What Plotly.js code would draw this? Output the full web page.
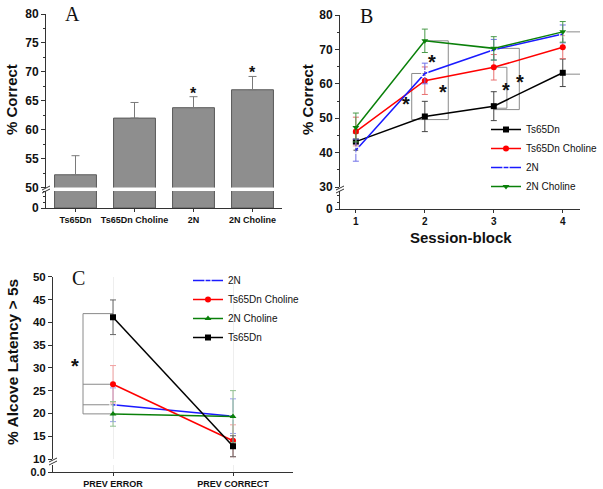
<!DOCTYPE html>
<html>
<head>
<meta charset="utf-8">
<script src="https://cdn.plot.ly/plotly-3.0.1.min.js"></script>
<style>
	body { margin: 0; background: #fff; }
	#chart { width: 603px; height: 489px; }
</style>
</head>
<body>
<div id="chart"></div>
<script>
// panel A - overall % correct
const groups = ["Ts65Dn", "Ts65Dn Choline", "2N", "2N Choline"];
const groupCorrect = [52.2, 62.0, 63.8, 66.9];
const groupErr = [3.3, 2.7, 1.9, 2.3];

// panel B - % correct by session block
const blocks = [1, 2, 3, 4];
const ts65dnB = [43.2, 50.5, 53.5, 63.2];
const ts65dnBErr = [2.5, 4.4, 4.2, 4.0];
const ts65dnCholB = [46.1, 60.9, 64.8, 70.6];
const ts65dnCholBErr = [4.2, 4.0, 3.7, 3.3];
const twoNB = [40.7, 63.0, 69.9, 74.5];
const twoNBErr = [3.2, 3.0, 3.0, 2.6];
const twoNCholB = [47.3, 72.5, 70.3, 75.1];
const twoNCholBErr = [4.2, 3.4, 3.4, 3.0];

// panel C - % alcove latency > 5s
const prevCats = ["PREV ERROR", "PREV CORRECT"];
const twoNC = [21.9, 19.4];
const twoNCErr = [3.7, 3.8];
const ts65dnCholC = [26.4, 14.0];
const ts65dnCholCErr = [4.1, 3.5];
const twoNCholC = [19.9, 19.3];
const twoNCholCErr = [2.7, 5.7];
const ts65dnC = [41.1, 12.8];
const ts65dnCErr = [3.8, 2.3];

const W = 603, H = 489;
const FONT = "Liberation Sans, Arial, sans-serif";
const SERIF = "Liberation Serif, Times New Roman, serif";
const AXIS_COL = "#333";
const BRACKET_COL = "#8a8a8a";

function px2x(p) { return p / W; }
function px2y(p) { return 1 - p / H; }
function xDom(a, b) { return [px2x(a), px2x(b)]; }
function yDom(top, bottom) { return [px2y(bottom), px2y(top)]; }

const tickFont = {family: FONT, size: 12, color: "#111", weight: "bold"};

function yAxisBase(extra) {
	return Object.assign({
		showline: true, linecolor: AXIS_COL, linewidth: 1,
		ticks: "outside", ticklen: 4, tickcolor: AXIS_COL,
		showgrid: false, zeroline: false, fixedrange: true,
		tickfont: tickFont
	}, extra);
}

// --- traces ---
const traces = [];

// A: bars drawn in both segments of the broken axis
[["x", "y"], ["x", "y2"]].forEach(function(ax, i) {
	traces.push({
		type: "bar", x: groups, y: groupCorrect, xaxis: ax[0], yaxis: ax[1],
		marker: {color: "#8e8e8e", line: {color: "#5a5a5a", width: 1}},
		error_y: i === 0 ? {
			type: "data", symmetric: false, array: groupErr,
			arrayminus: groupErr.map(() => 0), color: "#7a7a7a", thickness: 1, width: 4
		} : {visible: false},
		showlegend: false, hoverinfo: "skip"
	});
});

function lineTrace(name, xs, ys, errs, color, errColor, symbol, xa, ya, legend) {
	return {
		type: "scatter", mode: "lines+markers", name: name,
		x: xs, y: ys, xaxis: xa, yaxis: ya, legend: legend,
		line: {color: color, width: 1.5},
		marker: {color: symbol === "square-open" ? "#fff" : color, symbol: symbol, size: 6,
			line: {color: color, width: symbol === "square-open" ? 1.2 : 0}},
		error_y: {type: "data", array: errs, color: errColor, thickness: 1, width: 3},
		cliponaxis: false
	};
}

// the lower stub of each broken axis gets the same series (all clipped away)
function stubTrace(t, ya) {
	return Object.assign({}, t, {yaxis: ya, showlegend: false, cliponaxis: true,
		error_y: {visible: false}, hoverinfo: "skip"});
}

// B
const bTraces = [
	lineTrace("Ts65Dn", blocks, ts65dnB, ts65dnBErr, "#000", "#444", "square", "x2", "y3", "legend"),
	lineTrace("Ts65Dn Choline", blocks, ts65dnCholB, ts65dnCholBErr, "#ff0000", "#e87070", "circle", "x2", "y3", "legend"),
	lineTrace("2N", blocks, twoNB, twoNBErr, "#1a1aff", "#7070e8", "square-open", "x2", "y3", "legend"),
	lineTrace("2N Choline", blocks, twoNCholB, twoNCholBErr, "#0a800a", "#4a9a4a", "triangle-down", "x2", "y3", "legend")
];

// C
const cTraces = [
	lineTrace("2N", prevCats, twoNC, twoNCErr, "#1a1aff", "#9aa0ee", "square-open", "x3", "y5", "legend2"),
	lineTrace("Ts65Dn Choline", prevCats, ts65dnCholC, ts65dnCholCErr, "#ff0000", "#f2a0a0", "circle", "x3", "y5", "legend2"),
	lineTrace("2N Choline", prevCats, twoNCholC, twoNCholCErr, "#0a800a", "#90c090", "triangle-up", "x3", "y5", "legend2"),
	lineTrace("Ts65Dn", prevCats, ts65dnC, ts65dnCErr, "#000", "#666", "square", "x3", "y5", "legend2")
];

bTraces.forEach(t => traces.push(stubTrace(t, "y4")));
cTraces.forEach(t => traces.push(stubTrace(t, "y6")));
bTraces.forEach(t => traces.push(t));
cTraces.forEach(t => traces.push(t));

// --- significance brackets ---
const shapes = [];
function seg(xref, yref, x0, y0, x1, y1) {
	shapes.push({type: "line", xref: xref, yref: yref, x0: x0, y0: y0, x1: x1, y1: y1,
		line: {color: BRACKET_COL, width: 1}, layer: "below"});
}
function bracket(xref, yref, x, xv, top, bottom) {
	seg(xref, yref, x, top, xv, top);
	seg(xref, yref, xv, top, xv, bottom);
	seg(xref, yref, xv, bottom, x, bottom);
}
bracket("x2", "y3", 2, 1.81, twoNB[1], ts65dnB[1] - 0.9);
bracket("x2", "y3", 2, 2.34, twoNCholB[1], ts65dnB[1] - 0.9);
bracket("x2", "y3", 3, 3.19, ts65dnCholB[2], ts65dnB[2] - 0.6);
bracket("x2", "y3", 3, 3.37, twoNCholB[2], ts65dnB[2] - 1.0);
bracket("x2", "y3", 4, 4.28, twoNCholB[3], ts65dnB[3] - 0.4);

// C: one vertical bar joining all four PREV ERROR points
seg("x3", "y5", -0.25, ts65dnC[0] + 0.8, -0.25, twoNCholC[0]);
[ts65dnC[0] + 0.8, ts65dnCholC[0], twoNC[0], twoNCholC[0]].forEach(function(v) {
	seg("x3", "y5", -0.25, v, 0, v);
});

// axis break marks
function breakMarks(xPx, yPx) {
	[0, 3].forEach(function(off) {
		shapes.push({type: "line", xref: "paper", yref: "paper",
			x0: px2x(xPx - 4), y0: px2y(yPx + off + 2), x1: px2x(xPx + 4), y1: px2y(yPx + off - 2),
			line: {color: AXIS_COL, width: 1}});
	});
}
breakMarks(46, 188);
breakMarks(340, 188);
breakMarks(53, 460);

// --- annotations ---
const annotations = [];
function txt(text, xPx, yPx, size, opts) {
	annotations.push(Object.assign({
		text: text, xref: "paper", yref: "paper", x: px2x(xPx), y: px2y(yPx),
		xanchor: "center", yanchor: "middle", showarrow: false,
		font: {family: FONT, size: size, color: "#111", weight: "bold"}
	}, opts || {}));
}
function star(xref, yref, x, y, size) {
	annotations.push({text: "*", xref: xref, yref: yref, x: x, y: y, showarrow: false,
		xanchor: "center", yanchor: "middle", yshift: -5,
		font: {family: FONT, size: size, color: "#111", weight: "bold"}});
}

txt("A", 72, 14, 20, {font: {family: SERIF, size: 20, color: "#111"}});
txt("B", 366, 16, 20, {font: {family: SERIF, size: 20, color: "#111"}});
txt("C", 79, 278, 20, {font: {family: SERIF, size: 20, color: "#111"}});
txt("% Correct", 11, 100, 15, {textangle: -90});
txt("% Correct", 307, 100, 15, {textangle: -90});
txt("% Alcove Latency > 5s", 12, 362, 15.5, {textangle: -90});
txt("Session-block", 461, 238, 15);

star("x", "y", "2N", 67.2, 16);
star("x", "y", "2N Choline", 70.8, 16);
star("x2", "y3", 2.10, 67.9, 20);
star("x2", "y3", 2.27, 59.1, 20);
star("x2", "y3", 1.73, 55.7, 20);
star("x2", "y3", 3.18, 59.6, 20);
star("x2", "y3", 3.38, 62.0, 20);
star("x2", "y3", 4.29, 68.4, 20);
star("x3", "y5", -0.32, 31.4, 20);

const legendBase = {
	bgcolor: "rgba(0,0,0,0)", borderwidth: 0, itemwidth: 30,
	font: {family: FONT, size: 10, color: "#111"},
	xanchor: "left", yanchor: "top", tracegroupgap: 0
};

const layout = {
	width: W, height: H,
	margin: {l: 0, r: 0, t: 0, b: 0},
	paper_bgcolor: "#fff", plot_bgcolor: "rgba(0,0,0,0)",
	bargap: 0.29,
	showlegend: true,
	legend: Object.assign({x: px2x(486), y: px2y(115)}, legendBase),
	legend2: Object.assign({x: px2x(188), y: px2y(266)}, legendBase),

	// A
	xaxis: {domain: xDom(46, 282), anchor: "y2", type: "category", range: [-0.5, 3.5],
		showline: true, linecolor: AXIS_COL, ticks: "outside", ticklen: 3, tickcolor: AXIS_COL,
		tickfont: {family: FONT, size: 9, color: "#111", weight: "bold"}, fixedrange: true},
	yaxis: yAxisBase({domain: yDom(14, 187.5), anchor: "x", range: [50, 80], dtick: 5,
		minor: {dtick: 2.5, ticks: "outside", ticklen: 2, tickcolor: AXIS_COL}}),
	yaxis2: yAxisBase({domain: yDom(191, 208), anchor: "x", range: [0, 3], tickvals: [0],
		minor: {dtick: 1, ticks: "outside", ticklen: 2, tickcolor: AXIS_COL}}),

	// B
	xaxis2: {domain: xDom(340, 580), anchor: "y4", range: [0.77, 4.25], tickvals: blocks,
		showline: true, linecolor: AXIS_COL, ticks: "outside", ticklen: 3, tickcolor: AXIS_COL,
		showgrid: false, zeroline: false,
		tickfont: {family: FONT, size: 10, color: "#111", weight: "bold"}, fixedrange: true},
	yaxis3: yAxisBase({domain: yDom(15, 187), anchor: "x2", range: [30, 80], dtick: 10,
		minor: {dtick: 5, ticks: "outside", ticklen: 2, tickcolor: AXIS_COL}}),
	yaxis4: yAxisBase({domain: yDom(191, 209), anchor: "x2", range: [0, 5.2], tickvals: [0],
		minor: {dtick: 2, ticks: "outside", ticklen: 2, tickcolor: AXIS_COL}}),

	// C
	xaxis3: {domain: xDom(53, 293), anchor: "y6", type: "category", range: [-0.5, 1.5],
		showline: true, linecolor: AXIS_COL, ticks: "outside", ticklen: 3, tickcolor: AXIS_COL,
		tickfont: {family: FONT, size: 9, color: "#111", weight: "bold"}, fixedrange: true},
	yaxis5: yAxisBase({domain: yDom(276.7, 459), anchor: "x3", range: [10, 50], dtick: 5,
		tickfont: {family: FONT, size: 11.5, color: "#111", weight: "bold"}}),
	yaxis6: yAxisBase({domain: yDom(465, 472), anchor: "x3", range: [0, 1.5], tickvals: [0], ticktext: ["0.0"],
		tickfont: {family: FONT, size: 11, color: "#111", weight: "bold"}}),

	shapes: shapes,
	annotations: annotations
};

Plotly.newPlot("chart", traces, layout, {displayModeBar: false, staticPlot: true});
</script>
</body>
</html>
